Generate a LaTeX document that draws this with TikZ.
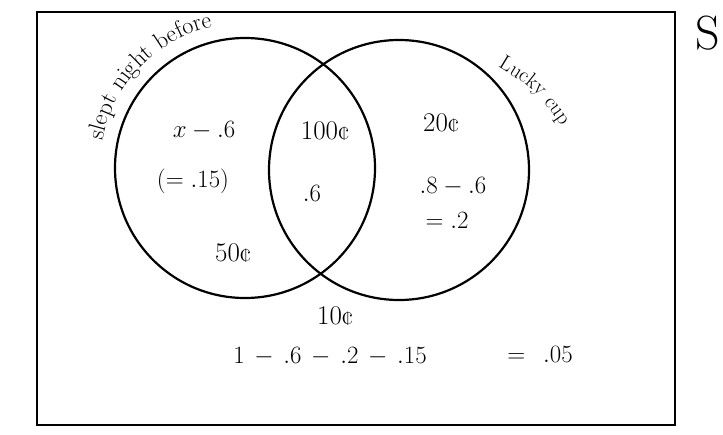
\documentclass[tikz,border=0pt]{standalone}
\usetikzlibrary{decorations.text}
\begin{document}
\begin{tikzpicture}[x=1pt, y=-1pt, line width=2.2pt,
  hand/.style={font=\fontsize{27}{29}\selectfont, inner sep=0pt},
  event/.style={circle, draw, minimum size=260pt, inner sep=0pt}]
\useasboundingbox (0,0) rectangle (723,434);

% sample space
\draw (37,12) rectangle (675,425);
\node[hand, font=\fontsize{48}{48}\selectfont] (space) at (708,33) {S};

% the two events
\node[event] (sleep) at (245,168) {};
\node[event] (lucky) at (399,170) {};

% names written along the circles
\path[decorate, decoration={text along path, text align=center,
  text={|\fontsize{24}{24}\selectfont|slept night before}}]
  (sleep.center) ++(180:145) arc[start angle=180, end angle=268, radius=145];
\path[decorate, decoration={text along path, text align=center,
  text={|\fontsize{21}{21}\selectfont|Lucky cup}}]
  (lucky.center) ++(-48:142) .. controls (536,90) .. (564,130);

% only slept
\node[hand] (onlysleep) at (204,131) {$x-.6$};
\node[hand] (onlysleepval) at (193,181) {$(=.15)$};
\node[hand] (onlysleepprize) at (233,253) {50¢};

% both
\node[hand] (bothprize) at (325,131) {100¢};
\node[hand] (bothval) at (312,193) {$.6$};

% only lucky cup
\node[hand] (onlyluckyprize) at (441,123) {20¢};
\node[hand] (onlylucky) at (453,187) {$.8-.6$};
\node[hand] (onlyluckyval) at (447,220) {$=.2$};

% neither
\node[hand] (neitherprize) at (335,316) {10¢};
\node[hand] (neither) at (330,357) {$1\,-\,.6\,-\,.2\,-\,.15$};
\node[hand] (neitherval) at (540,354) {$=\;\,.05$};
\end{tikzpicture}
\end{document}
